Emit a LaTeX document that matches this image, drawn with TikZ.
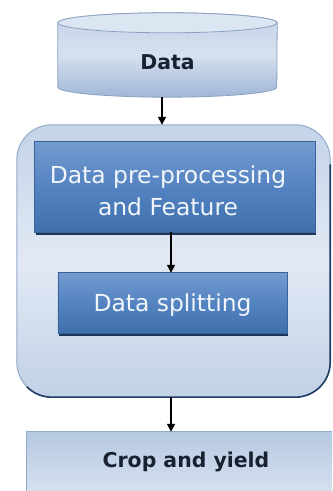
\documentclass[tikz,border=0pt]{standalone}
\usepackage{fontspec}
\setmainfont{DejaVu Sans}
\usetikzlibrary{arrows.meta}
\definecolor{cylEdge}{HTML}{8AA1C2}
\definecolor{cylTop}{HTML}{DCE5F2}
\definecolor{cylA}{HTML}{C6D4E8}
\definecolor{cylB}{HTML}{D6E0EF}
\definecolor{cylC}{HTML}{A0B7D6}
\definecolor{outA}{HTML}{C4D3E8}
\definecolor{outB}{HTML}{E2E9F4}
\definecolor{outC}{HTML}{C2D1E6}
\definecolor{outEdge}{HTML}{94AACA}
\definecolor{navy}{HTML}{213E66}
\definecolor{boxA}{HTML}{739BCF}
\definecolor{boxB}{HTML}{5383C1}
\definecolor{boxC}{HTML}{3F6FAD}
\definecolor{boxEdge}{HTML}{3A6399}
\definecolor{boxShadow}{HTML}{1C3659}
\definecolor{cropA}{HTML}{B6C9E2}
\definecolor{cropB}{HTML}{E0E8F3}
\definecolor{ink}{HTML}{18212F}
\definecolor{paleText}{HTML}{F2F6FB}
\tikzset{
  darktext/.style={font=\bfseries\fontsize{20.5}{24}\selectfont, text=ink, inner sep=0pt},
  whitetext/.style={font=\fontsize{23.5}{32}\selectfont, text=paleText, align=center, inner sep=0pt},
  bluebox/.style={draw=boxEdge, line width=0.6bp, top color=boxA, bottom color=boxC, middle color=boxB},
  arr/.style={-{Triangle[length=8bp,width=8bp]}, line width=1.6bp, black},
}
\begin{document}
\begin{tikzpicture}[x=1bp,y=1bp]
\useasboundingbox (0,0) rectangle (332,491);
\clip (0,0) rectangle (332,491);
\fill[white] (0,0) rectangle (332,491);

% Data cylinder
\node[minimum width=219bp, minimum height=84bp, inner sep=0pt] (data) at (167.5,436) {};
\shade[top color=cylA, bottom color=cylC, middle color=cylB, draw=cylEdge, line width=0.8bp]
  ([yshift=-10bp]data.north west) -- ([yshift=10bp]data.south west)
  arc[start angle=180, end angle=360, x radius=109.5bp, y radius=10bp]
  -- ([yshift=-10bp]data.north east)
  arc[start angle=0, end angle=180, x radius=109.5bp, y radius=10bp] -- cycle;
\draw[fill=cylTop, draw=cylEdge, line width=0.8bp] ([yshift=-10bp]data.north) ellipse[x radius=109.5bp, y radius=10bp];
\node[darktext] (datatxt) at (167.5,429) {Data};

% Outer rounded container
\node[minimum width=313bp, minimum height=272bp, inner sep=0pt] (outer) at (173.5,230) {};
\shade[rounded corners=35bp, top color=outA, bottom color=outC, middle color=outB, draw=outEdge, line width=1bp]
  (outer.south west) rectangle (outer.north east);
\draw[navy, line width=1.6bp, line cap=round]
  ([yshift=-40bp]outer.north east) -- ([yshift=35bp]outer.south east)
  arc[start angle=0, end angle=-90, radius=35bp]
  -- ([xshift=35bp]outer.south west)
  arc[start angle=270, end angle=225, radius=35bp];

% Inner box 1
\node[minimum width=280bp, minimum height=90bp, inner sep=0pt] (prep) at (175,304) {};
\fill[boxShadow] ([xshift=1bp,yshift=-3bp]prep.south west) rectangle ([xshift=1bp,yshift=-3bp]prep.north east);
\shade[bluebox] (prep.south west) rectangle (prep.north east);
\node[whitetext] (preptxt) at (168,300) {Data pre-processing\\and Feature};

% Inner box 2
\node[minimum width=229bp, minimum height=60bp, inner sep=0pt] (split) at (172.5,188) {};
\fill[boxShadow] ([xshift=1bp,yshift=-3bp]split.south west) rectangle ([xshift=1bp,yshift=-3bp]split.north east);
\shade[bluebox] (split.south west) rectangle (split.north east);
\node[whitetext] (splittxt) at (172.5,186) {Data splitting};

% Crop box (cut off by the page)
\node[minimum width=318bp, minimum height=80bp, inner sep=0pt] (crop) at (186,19) {};
\shade[top color=cropA, bottom color=cropB, draw=outEdge, line width=0.8bp]
  (crop.south west) rectangle (crop.north east);
\node[darktext] (croptxt) at (186,29) {Crop and yield};

% Connectors
\draw[arr] ([xshift=-5.5bp]data.south) -- ([xshift=-5.5bp]data.south |- outer.north);
\draw[arr] ([xshift=-4bp]prep.south) -- ([xshift=-4bp]prep.south |- split.north);
\draw[arr] ([xshift=-2.5bp]outer.south) -- ([xshift=-2.5bp]outer.south |- crop.north);
\end{tikzpicture}
\end{document}
